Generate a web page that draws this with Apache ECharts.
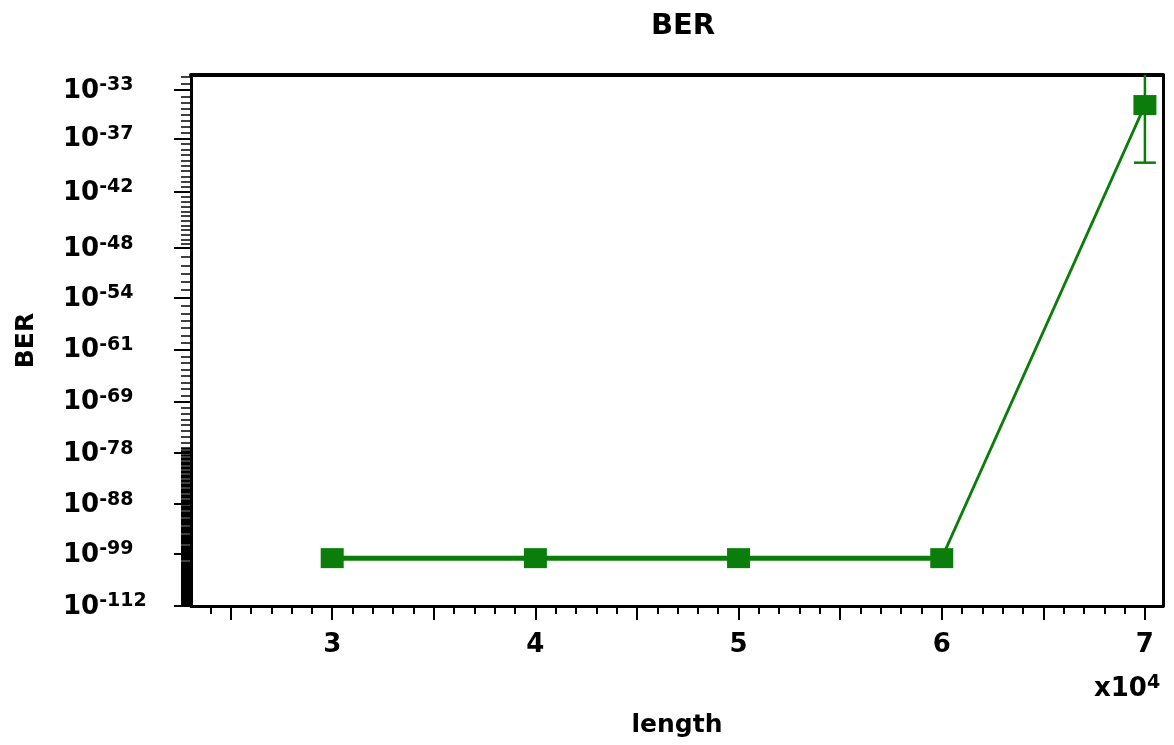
<!DOCTYPE html>
<html>
<head>
<meta charset="utf-8">
<script src="https://cdn.jsdelivr.net/npm/echarts@6/dist/echarts.min.js"></script>
<style>
  html, body { margin: 0; padding: 0; background: #ffffff; }
  #chart { width: 1174px; height: 745px; }
</style>
</head>
<body>
<div id="chart"></div>
<script>
// Measured bit error rate versus link length
const lengths = [30000, 40000, 50000, 60000, 70000];
const ber = [1e-100, 1e-100, 1e-100, 1e-100, 6.3e-35];
const berLow = [null, null, null, null, 6.3e-40];
const berHigh = [null, null, null, null, 1e-30];

// Tick labels
const yTickExponents = [33, 37, 42, 48, 54, 61, 69, 78, 88, 99, 112];
const xTickValues = [30000, 40000, 50000, 60000, 70000];

// The BER axis is double-logarithmic: position = log10(-log10(BER))
const berToPos = b => Math.log10(-Math.log10(b));
const expToPos = e => Math.log10(e);

const yMin = expToPos(31.85);
const yMax = expToPos(112);
const xMin = 23050;
const xMax = 70890;

const FONT = 'DejaVu Sans';
const GREEN = '#0a7d0a';

// tick sets
const xMajorTicks = [];
for (let v = 25000; v <= 70000; v += 5000) xMajorTicks.push(v);
const xMinorTicks = [];
for (let v = 24000; v <= 70000; v += 1000) xMinorTicks.push(v);
const yMinorTicks = [];
for (let e = 32; e < 48; e += 0.5) yMinorTicks.push(expToPos(e));
for (let e = 48; e < 77; e += 1) yMinorTicks.push(expToPos(e));
for (let e = 77; e <= 112; e += 0.25) yMinorTicks.push(expToPos(e));

const points = lengths.map((x, i) => [x, berToPos(ber[i])]);
const flatPoints = points.filter((p, i) => ber[i] === ber[0]);
const errData = lengths
  .map((x, i) => (berLow[i] == null ? null : [x, berToPos(berLow[i]), berToPos(berHigh[i])]))
  .filter(d => d);

const chart = echarts.init(document.getElementById('chart'), null, { renderer: 'canvas' });

const hidden = { show: false };
const supRich = (key) => ({
  b: { fontFamily: FONT, fontWeight: 'bold', fontSize: 26, lineHeight: 28, [key]: '#000', verticalAlign: 'bottom' },
  s: { fontFamily: FONT, fontWeight: 'bold', fontSize: 19, lineHeight: 19, [key]: '#000', verticalAlign: 'top' }
});

chart.setOption({
  backgroundColor: '#ffffff',
  animation: false,
  title: {
    text: 'BER',
    left: 678,
    top: 7,
    textAlign: 'center',
    textStyle: { fontFamily: FONT, fontWeight: 'bold', fontSize: 29, color: '#000' }
  },
  grid: { left: 191, right: 11, top: 75, bottom: 139, containLabel: false },
  xAxis: [
    {
      type: 'value', min: xMin, max: xMax, position: 'bottom',
      axisLine: { show: true, lineStyle: { color: '#000', width: 3 } },
      axisTick: { show: true, inside: false, length: 14, customValues: xMajorTicks,
                  lineStyle: { color: '#000', width: 2 } },
      axisLabel: { show: true, margin: 26, customValues: xTickValues,
                   formatter: v => String(v / 10000),
                   fontFamily: FONT, fontWeight: 'bold', fontSize: 26, color: '#000' },
      splitLine: hidden,
      name: 'length', nameLocation: 'middle', nameGap: 107,
      nameTextStyle: { fontFamily: FONT, fontWeight: 'bold', fontSize: 25, color: '#000' }
    },
    {
      type: 'value', min: xMin, max: xMax, position: 'bottom',
      axisLine: hidden,
      axisTick: { show: true, inside: false, length: 8, customValues: xMinorTicks,
                  lineStyle: { color: '#000', width: 2 } },
      axisLabel: hidden, splitLine: hidden
    },
    {
      type: 'value', min: xMin, max: xMax, position: 'top',
      axisLine: { show: true, lineStyle: { color: '#000', width: 4 } },
      axisTick: hidden, axisLabel: hidden, splitLine: hidden
    }
  ],
  yAxis: [
    {
      type: 'value', inverse: true, min: yMin, max: yMax, position: 'left',
      axisLine: { show: true, lineStyle: { color: '#000', width: 3 } },
      axisTick: { show: true, inside: false, length: 17, customValues: yTickExponents.map(expToPos),
                  lineStyle: { color: '#000', width: 2 } },
      axisLabel: {
        show: true, margin: 128, align: 'left', customValues: yTickExponents.map(expToPos),
        formatter: v => '{b|10}{s|-' + Math.round(Math.pow(10, v)) + '}',
        rich: supRich('color')
      },
      splitLine: hidden,
      name: 'BER', nameLocation: 'middle', nameGap: 152,
      nameTextStyle: { fontFamily: FONT, fontWeight: 'bold', fontSize: 25, color: '#000' }
    },
    {
      type: 'value', inverse: true, min: yMin, max: yMax, position: 'left',
      axisLine: hidden,
      axisTick: { show: true, inside: false, length: 10, customValues: yMinorTicks,
                  lineStyle: { color: '#000', width: 1.5 } },
      axisLabel: hidden, splitLine: hidden
    },
    {
      type: 'value', inverse: true, min: yMin, max: yMax, position: 'right',
      axisLine: { show: true, lineStyle: { color: '#000', width: 3 } },
      axisTick: hidden, axisLabel: hidden, splitLine: hidden
    }
  ],
  graphic: [
    {
      type: 'text', left: 1094, top: 674, z: 10,
      style: { text: '{b|x10}{s|4}', rich: supRich('fill') }
    }
  ],
  series: [
    {
      type: 'custom', name: 'error', xAxisIndex: 0, yAxisIndex: 0, z: 2, clip: true,
      data: errData,
      renderItem: (params, api) => {
        const lo = api.coord([api.value(0), api.value(1)]);
        const hi = api.coord([api.value(0), api.value(2)]);
        const half = 11;
        const style = { stroke: GREEN, lineWidth: 2.5 };
        return {
          type: 'group',
          children: [
            { type: 'line', shape: { x1: lo[0], y1: lo[1], x2: hi[0], y2: hi[1] }, style },
            { type: 'line', shape: { x1: lo[0] - half, y1: lo[1], x2: lo[0] + half, y2: lo[1] }, style },
            { type: 'line', shape: { x1: hi[0] - half, y1: hi[1], x2: hi[0] + half, y2: hi[1] }, style }
          ]
        };
      }
    },
    {
      type: 'line', name: 'BER flat', xAxisIndex: 0, yAxisIndex: 0, z: 3,
      data: flatPoints, showSymbol: false, symbol: 'none',
      lineStyle: { color: GREEN, width: 5 }
    },
    {
      type: 'line', name: 'BER', xAxisIndex: 0, yAxisIndex: 0, z: 4,
      data: points,
      symbol: 'rect', symbolSize: [23, 20],
      itemStyle: { color: GREEN },
      lineStyle: { color: GREEN, width: 2.8 }
    }
  ]
});
</script>
</body>
</html>
